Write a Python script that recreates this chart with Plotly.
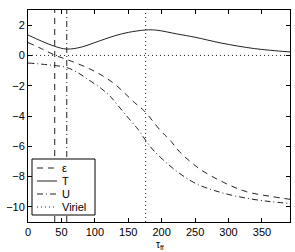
import plotly.graph_objects as go

# Data
tau_T = [0, 20, 40, 58, 80, 100, 130, 150, 176, 192, 224, 250, 290, 339, 392]
T_vals = [1.35, 0.95, 0.6, 0.42, 0.55, 0.85, 1.3, 1.52, 1.68, 1.67, 1.41, 1.2, 0.81, 0.45, 0.23]

tau_eps = [0, 20, 41, 60, 88, 108, 130, 159, 174, 199, 214, 227, 257, 292, 327, 362, 392]
eps_vals = [0.85, 0.45, 0.0, -0.3, -0.8, -1.25, -1.9, -3.1, -3.67, -5.0, -5.67, -6.37, -7.5, -8.37, -9.0, -9.3, -9.5]

tau_U = [0, 30, 58, 75, 90, 110, 123, 135, 154, 165, 177, 189, 210, 227, 252, 287, 327, 362, 392]
U_vals = [-0.5, -0.62, -0.8, -1.15, -1.59, -2.2, -2.7, -3.33, -4.33, -4.9, -5.67, -6.33, -7.2, -7.8, -8.48, -9.03, -9.43, -9.65, -9.77]

virial_level = 0
eps_zero_tau = 40
U_mark_tau = 58
virial_tau = 176

x_range = [0, 392]
y_range = [-11, 3]
x_ticks = [0, 50, 100, 150, 200, 250, 300, 350]
y_ticks = [2, 0, -2, -4, -6, -8, -10]

series_names = ["ε", "T", "U", "Viriel"]

col = "#222222"
DASH = "6px,5px"
DASHDOT = "6px,3px,1px,3px"
DOT = "1px,3px"
series_dash = [DASH, "solid", DASHDOT, DOT]

fig = go.Figure()

# vertical marker lines
fig.add_trace(go.Scatter(x=[eps_zero_tau, eps_zero_tau], y=y_range, mode="lines",
                         line=dict(color=col, width=1, dash=DASH), showlegend=False))
fig.add_trace(go.Scatter(x=[U_mark_tau, U_mark_tau], y=y_range, mode="lines",
                         line=dict(color=col, width=1, dash=DASHDOT), showlegend=False))
fig.add_trace(go.Scatter(x=[virial_tau, virial_tau], y=y_range, mode="lines",
                         line=dict(color=col, width=1, dash=DOT), showlegend=False))

fig.add_trace(go.Scatter(x=tau_eps, y=eps_vals, mode="lines", name=series_names[0], line_shape="spline",
                         line=dict(color=col, width=1, dash=DASH), showlegend=False))
fig.add_trace(go.Scatter(x=tau_T, y=T_vals, mode="lines", name=series_names[1], line_shape="spline",
                         line=dict(color=col, width=1), showlegend=False))
fig.add_trace(go.Scatter(x=tau_U, y=U_vals, mode="lines", name=series_names[2], line_shape="spline",
                         line=dict(color=col, width=1, dash=DASHDOT), showlegend=False))
fig.add_trace(go.Scatter(x=x_range, y=[virial_level, virial_level], mode="lines", name=series_names[3],
                         line=dict(color=col, width=1, dash=DOT), showlegend=False))

axis_common = dict(showgrid=False, zeroline=False, showline=True, linecolor="#000000",
                   linewidth=1, mirror="ticks", ticks="inside", ticklen=4, automargin=False,
                   tickcolor="#000000", tickfont=dict(family="Liberation Sans", size=11, color="#000"))

# compact legend box (styling)
W = 262.0
H = 212.0
def px_x(p):
    return (p - 28) / W
def px_y(p):
    return (222 - p) / H

shapes = [dict(type="rect", xref="paper", yref="paper",
               x0=px_x(32), x1=px_x(95), y0=px_y(215), y1=px_y(159),
               line=dict(color="#000", width=1), fillcolor="white", layer="above")]
annotations = []
row_px = [168, 181, 194, 207]
for name, dash, ry in zip(series_names, series_dash, row_px):
    shapes.append(dict(type="line", xref="paper", yref="paper",
                       x0=px_x(37), x1=px_x(57), y0=px_y(ry), y1=px_y(ry),
                       line=dict(color=col, width=1, dash=dash), layer="above"))
    annotations.append(dict(text=name, xref="paper", yref="paper", x=px_x(60), y=px_y(ry),
                            xanchor="left", yanchor="middle", showarrow=False,
                            font=dict(family="Liberation Sans", size=11, color="#000")))

annotations.append(dict(text="τ<sub>ff</sub>", xref="paper", yref="paper",
                        x=px_x(160), y=px_y(237), xanchor="center", yanchor="top",
                        showarrow=False, font=dict(family="Liberation Sans", size=10, color="#000")))

fig.update_layout(
    width=295, height=252,
    margin=dict(l=28, r=5, t=10, b=30, autoexpand=False),
    paper_bgcolor="white", plot_bgcolor="white",
    xaxis=dict(range=x_range, tickvals=x_ticks, **axis_common),
    yaxis=dict(range=y_range, tickvals=y_ticks, **axis_common),
    shapes=shapes, annotations=annotations,
    showlegend=False,
)

fig.write_html("out.html", config={"displayModeBar": False},
               post_script="document.body.style.margin='0';document.body.style.overflow='hidden';")
